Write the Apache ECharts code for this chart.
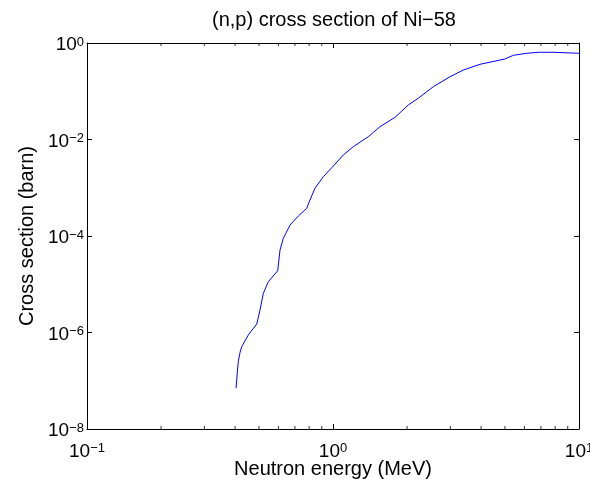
<!DOCTYPE html>
<html>
<head>
<meta charset="utf-8">
<script src="https://cdn.jsdelivr.net/npm/echarts@6/dist/echarts.min.js"></script>
<style>html,body{margin:0;padding:0;background:#fff;}#c{width:590px;height:484px;}</style>
</head>
<body>
<div id="c"></div>
<script>
// Neutron energy (MeV)
const energy = [0.4035, 0.407, 0.412, 0.419, 0.4255, 0.4526, 0.49, 0.505, 0.521, 0.546, 0.596,
  0.609, 0.628, 0.669, 0.723, 0.782, 0.806, 0.845, 0.913, 1.003, 1.101, 1.209, 1.391,
  1.552, 1.787, 2.023, 2.22, 2.557, 2.99, 3.386, 3.959, 5.0, 5.41, 6.13, 6.83, 7.86, 10.0];
// Cross section (barn)
const crossSection = [6.97e-8, 1.2e-7, 2.48e-7, 3.9e-7, 5.08e-7, 8.88e-7, 1.5e-6, 2.93e-6, 6.5e-6, 1.13e-5, 1.91e-5,
  5.13e-5, 8.96e-5, 1.69e-4, 2.6e-4, 3.75e-4, 5.57e-4, 9.75e-4, 1.69e-3, 2.82e-3, 4.77e-3, 7.1e-3, 1.14e-2,
  1.84e-2, 2.88e-2, 5.19e-2, 7.14e-2, 0.124, 0.2, 0.275, 0.362, 0.466, 0.556, 0.612, 0.642, 0.642, 0.612];
// Minor tick positions on the energy axis
const minorTicks = [0.2, 0.3, 0.4, 0.5, 0.6, 0.7, 0.8, 0.9, 2, 3, 4, 5, 6, 7, 8, 9];

const title = '(n,p) cross section of Ni\u221258';
const xName = 'Neutron energy (MeV)';
const yName = 'Cross section (barn)';

const FONT = 'Liberation Sans, Arial, Helvetica, sans-serif';
function expLabel(v) {
  const e = Math.round(Math.log10(v));
  const s = e < 0 ? '\u2212' + (-e) : String(e);
  return '{b|10}{s|' + s + '}';
}
const rich = {
  b: { fontSize: 19, lineHeight: 19, fontFamily: FONT, color: '#000', padding: [7, 0, 0, 0], verticalAlign: 'bottom' },
  s: { fontSize: 13, lineHeight: 13, fontFamily: FONT, color: '#000', verticalAlign: 'top' }
};
const axisCommon = {
  axisLine: { show: true, lineStyle: { color: '#000', width: 1 } },
  axisTick: { show: true, inside: true, length: 5, lineStyle: { color: '#000', width: 1 } },
  splitLine: { show: false },
  minorTick: { show: false }
};

const chart = echarts.init(document.getElementById('c'), null, { renderer: 'canvas' });
chart.setOption({
  animation: false,
  backgroundColor: '#fff',
  title: {
    text: title, left: 212, top: 10, padding: 0,
    textStyle: { fontSize: 20, fontWeight: 'normal', fontFamily: FONT, color: '#000' }
  },
  grid: { left: 87, right: 11, top: 43, bottom: 55, containLabel: false, outerBoundsMode: 'none' },
  xAxis: [
    Object.assign({
      type: 'log', logBase: 10, min: 0.1, max: 10, position: 'bottom',
      name: xName, nameLocation: 'middle', nameGap: 30, nameMoveOverlap: false,
      nameTextStyle: { fontSize: 20, fontFamily: FONT, color: '#000' },
      axisLabel: { formatter: expLabel, rich: rich, margin: 13 }
    }, axisCommon),
    Object.assign({
      type: 'log', logBase: 10, min: 0.1, max: 10, position: 'top',
      axisLabel: { show: false }
    }, axisCommon)
  ],
  yAxis: [
    Object.assign({
      type: 'log', logBase: 100, min: 1e-8, max: 1, position: 'left',
      name: yName, nameLocation: 'middle', nameGap: 50, nameMoveOverlap: false,
      nameTextStyle: { fontSize: 20, fontFamily: FONT, color: '#000' },
      axisLabel: { formatter: expLabel, rich: rich, margin: 3, padding: [4, 0, 0, 0] }
    }, axisCommon),
    Object.assign({
      type: 'log', logBase: 100, min: 1e-8, max: 1, position: 'right',
      axisLabel: { show: false }
    }, axisCommon)
  ],
  series: [
    {
      type: 'line', data: energy.map((e, i) => [e, crossSection[i]]),
      showSymbol: false, symbol: 'none', smooth: false,
      lineStyle: { color: '#0000ff', width: 1 }, z: 3
    },
    {
      type: 'scatter', data: minorTicks.map(v => [v, 1e-8]),
      symbol: 'rect', symbolSize: [1, 3], symbolOffset: [0, -1.5],
      itemStyle: { color: '#000' }, clip: false, silent: true
    },
    {
      type: 'scatter', data: minorTicks.map(v => [v, 1]),
      symbol: 'rect', symbolSize: [1, 3], symbolOffset: [0, 1.5],
      itemStyle: { color: '#000' }, clip: false, silent: true
    }
  ]
});
</script>
</body>
</html>
